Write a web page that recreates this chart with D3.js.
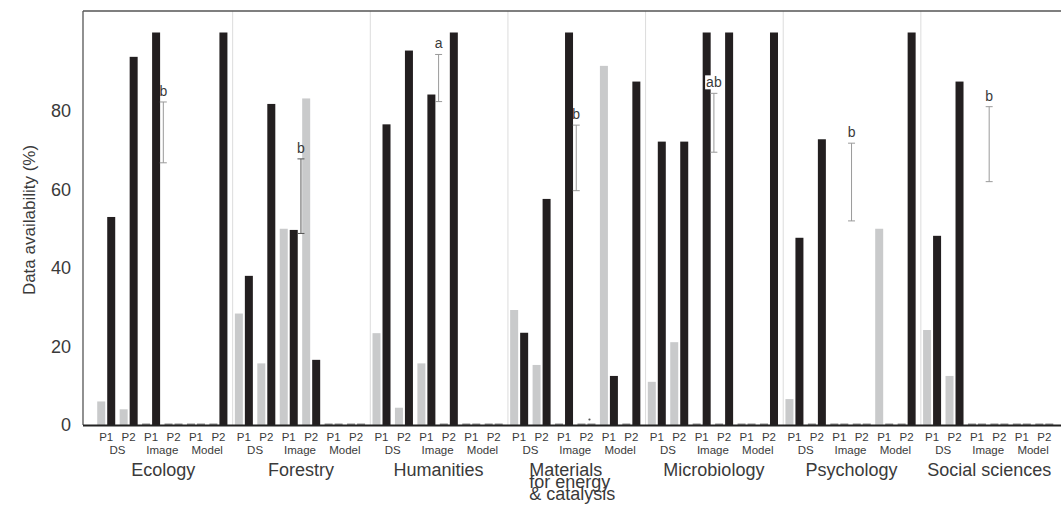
<!DOCTYPE html>
<html>
<head>
<meta charset="utf-8">
<script src="https://cdn.jsdelivr.net/npm/d3@7"></script>
<style>
  body { margin: 0; background: #fff; }
  svg { display: block; font-family: "Liberation Sans", Arial, sans-serif; }
</style>
</head>
<body>
<svg id="svg" width="1061" height="506"></svg>
<script>
//Data
const GROUPS = ["Ecology", "Forestry", "Humanities", "Materials for energy & catalysis", "Microbiology", "Psychology", "Social sciences"];
const TYPES = ["DS", "Image", "Model"];
const PHASES = ["P1", "P2"];
const Y_TICKS = [0, 20, 40, 60, 80];
// six slots per group: DS P1, DS P2, Image P1, Image P2, Model P1, Model P2
const GRAY_VALUES = [
    [6, 4, 0, 0, 0, 0],
    [28.4, 15.7, 50, 83.2, 0, 0],
    [23.4, 4.4, 15.7, 0, 0, 0],
    [29.3, 15.3, 0, 0, 91.5, 0],
    [11, 21.1, 0, 0, 0, 0],
    [6.6, 0, 0, 0, 50, 0],
    [24.2, 12.5, 0, 0, 0, 0]
];
const BLACK_VALUES = [
    [53, 93.8, 100, 0, 0, 100],
    [38, 81.8, 49.7, 16.6, 0, 0],
    [76.6, 95.4, 84.2, 100, 0, 0],
    [23.5, 57.6, 100, 0, 12.5, 87.5],
    [72.2, 72.2, 100, 100, 0, 100],
    [47.7, 72.8, 0, 0, 0, 100],
    [48.2, 87.5, 0, 0, 0, 0]
];
// range bars drawn between the two Image phases
const ERR_LOW = [66.8, 48.8, 82.4, 59.7, 69.5, 52, 62];
const ERR_HIGH = [82.3, 67.8, 94.4, 76.4, 84.5, 71.8, 81.1];
const ERR_LABELS = ["b", "b", "a", "b", "ab", "b", "b"];

//Layout
const SVG = d3.select("#svg");
const LEFT = 83, TOP = 11, BOTTOM = 425, RIGHT = 1061;
const BAR_W = 8;
const GRAY = "#c9cacb";
const BLACK = "#231f20";
const TEXT = "#3a3a3a";

let y_scale = d3.scaleLinear().domain([0, 100]).range([BOTTOM, 32.5]);
let x_group = d3.scaleBand().domain(GROUPS).range([94.5, 1058]);
let slots = [];
TYPES.forEach(t => PHASES.forEach(p => slots.push(t + " " + p)));
let x_slot = d3.scaleBand().domain(slots).range([0.5, x_group.bandwidth() - 2.5]);

function slotCenter(g, s) { return x_group(GROUPS[g]) + x_slot(slots[s]) + x_slot.bandwidth() / 2; }

//Separators
SVG.append("g").selectAll("line")
    .data(GROUPS.slice(1))
    .enter().append("line")
    .attr("x1", d => x_group(d) + 0.5).attr("x2", d => x_group(d) + 0.5)
    .attr("y1", TOP).attr("y2", BOTTOM)
    .attr("stroke", "#dcdcdc").attr("stroke-width", 1);

//Bars
let bars = [];
GROUPS.forEach((g, gi) => {
    slots.forEach((s, si) => {
        bars.push({g: gi, s: si, v: GRAY_VALUES[gi][si], dark: false});
        bars.push({g: gi, s: si, v: BLACK_VALUES[gi][si], dark: true});
    });
});

SVG.append("g").selectAll("rect")
    .data(bars)
    .enter().append("rect")
    .attr("x", d => slotCenter(d.g, d.s) + (d.dark ? 1 : -9))
    .attr("width", BAR_W)
    .attr("y", d => d.v > 0 ? y_scale(d.v) : BOTTOM - 1.5)
    .attr("height", d => d.v > 0 ? BOTTOM - y_scale(d.v) : 1.5)
    .attr("fill", d => d.v > 0 ? (d.dark ? BLACK : GRAY) : "#8a8a8a");

//Little dot in Materials, P2 Image
SVG.append("circle")
    .attr("cx", slotCenter(3, 3) + 3).attr("cy", BOTTOM - 5.5).attr("r", 1.1)
    .attr("fill", "#555");

//Range bars
const ERR_COLORS = ["#9a9a9a", "#555555", "#9a9a9a", "#9a9a9a", "#9a9a9a", "#9a9a9a", "#9a9a9a"];
let err = SVG.append("g");
GROUPS.forEach((g, gi) => {
    let cx = (slotCenter(gi, 2) + slotCenter(gi, 3)) / 2 + 1;
    let y1 = y_scale(ERR_HIGH[gi]), y2 = y_scale(ERR_LOW[gi]);
    let c = ERR_COLORS[gi];
    err.append("line").attr("x1", cx).attr("x2", cx).attr("y1", y1).attr("y2", y2).attr("stroke", c).attr("stroke-width", 1);
    err.append("line").attr("x1", cx - 3.5).attr("x2", cx + 3.5).attr("y1", y1).attr("y2", y1).attr("stroke", c).attr("stroke-width", 1);
    err.append("line").attr("x1", cx - 3.5).attr("x2", cx + 3.5).attr("y1", y2).attr("y2", y2).attr("stroke", c).attr("stroke-width", 1);
    let label = err.append("text")
        .attr("x", cx).attr("y", y1 - 6)
        .attr("text-anchor", "middle")
        .attr("font-size", 14).attr("fill", TEXT)
        .text(ERR_LABELS[gi]);
    if (ERR_LABELS[gi].length > 1) {
        let bb = label.node().getBBox();
        err.insert("rect", "text:last-child")
            .attr("x", bb.x - 1).attr("y", bb.y + 1).attr("width", bb.width + 2).attr("height", bb.height - 2)
            .attr("fill", "#fff");
    }
});

//Frame
SVG.append("line").attr("x1", LEFT).attr("x2", RIGHT).attr("y1", TOP).attr("y2", TOP).attr("stroke", "#555").attr("stroke-width", 1.3);
SVG.append("line").attr("x1", LEFT).attr("x2", LEFT).attr("y1", TOP).attr("y2", BOTTOM).attr("stroke", "#555").attr("stroke-width", 1.3);
SVG.append("line").attr("x1", LEFT).attr("x2", RIGHT).attr("y1", BOTTOM + 0.5).attr("y2", BOTTOM + 0.5).attr("stroke", "#222").attr("stroke-width", 1.8);

//Y axis
let y_axis = d3.axisLeft(y_scale).tickValues(Y_TICKS).tickSize(0).tickPadding(12);
let ya = SVG.append("g").attr("transform", "translate(" + LEFT + ",0)").call(y_axis);
ya.select(".domain").remove();
ya.selectAll("text").attr("font-size", 18).attr("fill", TEXT).attr("font-family", "Liberation Sans, Arial, sans-serif");

SVG.append("text")
    .attr("transform", "translate(35," + 220 + ") rotate(-90)")
    .attr("text-anchor", "middle")
    .attr("font-size", 17).attr("fill", TEXT)
    .text("Data availability (%)");

//X labels
let xl = SVG.append("g").attr("fill", TEXT);
GROUPS.forEach((g, gi) => {
    slots.forEach((s, si) => {
        xl.append("text")
            .attr("x", slotCenter(gi, si)).attr("y", 441)
            .attr("text-anchor", "middle").attr("font-size", 11.5)
            .text(PHASES[si % 2]);
    });
    TYPES.forEach((t, ti) => {
        xl.append("text")
            .attr("x", (slotCenter(gi, ti * 2) + slotCenter(gi, ti * 2 + 1)) / 2).attr("y", 454)
            .attr("text-anchor", "middle").attr("font-size", 11.5)
            .text(t);
    });
    let gx = x_group(g) + x_group.bandwidth() / 2;
    if (g.startsWith("Materials")) {
        let lines = ["Materials", "for energy", "& catalysis"];
        lines.forEach((ln, li) => {
            xl.append("text")
                .attr("x", gx - 47).attr("y", 476 + li * 12)
                .attr("font-size", 18)
                .text(ln);
        });
    } else {
        xl.append("text")
            .attr("x", gx).attr("y", 476)
            .attr("text-anchor", "middle").attr("font-size", 18)
            .text(g);
    }
});
</script>
</body>
</html>
